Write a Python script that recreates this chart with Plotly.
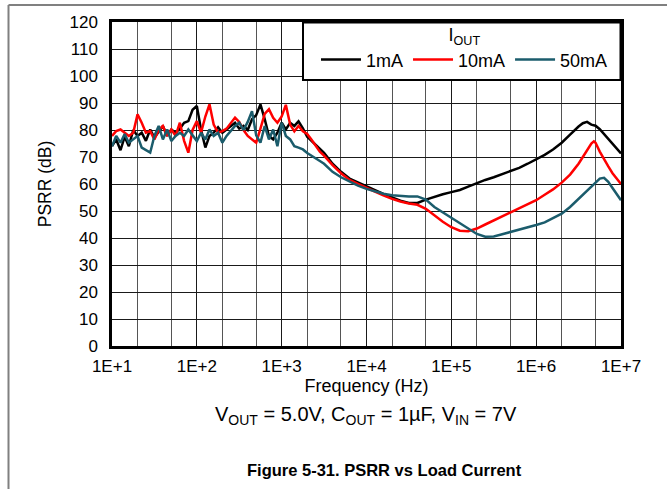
import plotly.graph_objects as go

# Frequency points (Hz)
FREQ_HZ = [
    10, 11.2, 12.6, 14.1, 15.8, 17.8, 20, 22.4, 25.1, 28.2,
    31.6, 35.5, 39.8, 44.7, 50.1, 56.2, 63.1, 70.8, 79.4, 89.1,
    100, 112, 126, 141, 158, 178, 200, 224, 251, 282,
    316, 355, 398, 447, 501, 562, 631, 708, 794, 891,
    1000, 1120, 1260, 1410, 1580, 1780, 2000, 2240, 2510, 2820,
    3160, 3980, 5010, 6310, 7940, 10000, 12600, 15800, 20000, 25100,
    31600, 39800, 50100, 63100, 79400, 1.0e5, 1.26e5, 1.58e5, 2.0e5, 2.51e5,
    3.16e5, 3.98e5, 5.01e5, 6.31e5, 7.94e5, 1.0e6, 1.26e6, 1.58e6, 2.0e6, 2.51e6,
    2.82e6, 3.16e6, 3.55e6, 3.98e6, 4.47e6, 4.79e6, 5.01e6, 5.62e6, 6.31e6, 7.08e6,
    7.94e6, 8.91e6, 1.0e7,
]

# PSRR (dB) for each load current
PSRR_1MA = [
    74, 76.5, 72.5, 77.5, 74, 80, 77.8, 79, 76, 80.2,
    77.2, 79.5, 81.5, 77.8, 80.2, 79, 80.5, 82.7, 83.3, 87.5,
    88.9, 80.2, 73.5, 77.8, 79, 81, 79, 80.2, 81.5, 82.7,
    80.5, 81.5, 80, 84, 85.5, 89.5, 84, 77.8, 76.5, 79,
    82.7, 80.2, 82.7, 81.5, 83.2, 80.6, 77.5, 76, 74.5, 73.2,
    71.5, 67.5, 64.5, 62, 60.5, 59, 57.5, 56.3, 55, 53.8,
    53.0, 53.0, 54.2, 55.3, 56.2, 57.0, 57.8, 59, 60.3, 61.5,
    62.5, 63.7, 64.8, 66, 67.5, 69, 70.8, 72.8, 75.3, 78.3,
    80, 81.3, 82.5, 83, 82, 81.7, 81.6, 80.3, 78.5, 76.8,
    75, 73.3, 71.3,
]

PSRR_10MA = [
    77.8, 79.6, 80.2, 79, 77.8, 79, 85.8, 82.7, 79, 79.6,
    76.5, 80, 81.5, 77.8, 80.2, 77.8, 82.7, 76, 71.6, 80,
    83.3, 79, 85, 89.5, 82, 79, 79.6, 80.5, 82.5, 84.6,
    83, 80, 77.8, 76.5, 75.3, 80.5, 86, 87.7, 84.5, 82.7,
    85, 89.3, 82, 79.5, 81.5, 79.5, 78.5, 76.5, 74.5, 72,
    70.5, 67, 64, 61.5, 60, 58.6, 57, 55.8, 54.5, 53.5,
    52.8, 52.3, 50.8, 48.3, 46, 44, 42.7, 42.5, 43.5, 45,
    46.5, 48, 49.5, 51, 52.5, 54, 56, 58, 60.5, 63.5,
    65.5, 67.5, 70, 72.5, 75, 75.8, 75.3, 72, 69, 66.5,
    64, 62, 60,
]

PSRR_50MA = [
    74, 77.8, 75.3, 78.5, 75.3, 76.5, 77.8, 73.5, 72.5, 71.6,
    77.8, 81.5, 76.5, 80.2, 75.9, 77.8, 79, 77.8, 80.2, 77.8,
    75.9, 79, 76.5, 80.2, 77.8, 79, 75.3, 77.8, 79.5, 81.5,
    82.7, 80, 83, 87, 78, 75.3, 81.5, 76.5, 80.2, 74,
    82.7, 77.8, 76.5, 74, 73.5, 72.8, 71.5, 70.4, 69.5, 68.5,
    67.5, 64.5, 62.5, 60.8, 59.4, 58.2, 57.2, 56.4, 55.8, 55.5,
    55.4, 55.4, 54.2, 51.5, 49.5, 47.5, 45.5, 43.5, 41.5, 40.5,
    40.6, 41.4, 42.2, 43, 43.8, 44.8, 45.8, 47.3, 49, 51.5,
    53, 54.5, 56, 57.5, 59, 60, 60.7, 62, 62.3, 60.8,
    58.5, 56, 54,
]

SERIES_NAMES = ["1mA", "10mA", "50mA"]
SERIES_COLORS = ["#000000", "#ff0000", "#1b5c6c"]

X_TICKVALS = [10, 100, 1000, 1e4, 1e5, 1e6, 1e7]
X_TICKTEXT = ["1E+1", "1E+2", "1E+3", "1E+4", "1E+5", "1E+6", "1E+7"]

FONT = "Liberation Sans, Arial, sans-serif"

fig = go.Figure()
for name, ys, col in zip(SERIES_NAMES, [PSRR_1MA, PSRR_10MA, PSRR_50MA], SERIES_COLORS):
    fig.add_trace(go.Scatter(x=FREQ_HZ, y=ys, mode="lines", name=name,
                             line=dict(color=col, width=2.5)))

W, H = 667, 489
L, R, T, B = 112, 46, 22, 143
pw, ph = W - L - R, H - T - B

def px_x(px):
    return (px - L) / pw

def px_y(py):
    return 1 - (py - T) / ph

fig.update_layout(
    width=W, height=H,
    margin=dict(l=L, r=R, t=T, b=B),
    paper_bgcolor="white", plot_bgcolor="white",
    font=dict(family=FONT, size=17, color="black"),
    showlegend=True,
    legend=dict(
        orientation="h", x=px_x(613), xanchor="right", y=px_y(18), yanchor="top",
        bgcolor="rgba(0,0,0,0)", borderwidth=0,
        font=dict(size=18),
        title=dict(text="I<sub>OUT</sub>", side="top center", font=dict(size=18)),
        itemwidth=40,
    ),
    xaxis=dict(
        type="log", range=[1, 7],
        tickvals=X_TICKVALS, ticktext=X_TICKTEXT,
        showgrid=True, gridcolor="#1a1a1a", gridwidth=1,
        minor=dict(showgrid=True, gridcolor="#555555", gridwidth=1),
        showline=True, linecolor="black", linewidth=2.5, mirror=True,
        ticks="", zeroline=False,
        tickfont=dict(size=17), ticklabelstandoff=3,
        title=dict(text="Frequency (Hz)", font=dict(size=18), standoff=1),
    ),
    yaxis=dict(
        range=[0, 120], dtick=10, tick0=0,
        showgrid=True, gridcolor="#1a1a1a", gridwidth=1,
        showline=True, linecolor="black", linewidth=2.5, mirror=True,
        ticks="", zeroline=False,
        tickfont=dict(size=17), ticklabelstandoff=8,
        title=dict(text="PSRR (dB)", font=dict(size=17.5), standoff=14),
    ),
)

# Legend box
fig.add_shape(type="rect", xref="paper", yref="paper", layer="above",
              x0=px_x(303), x1=px_x(620.5), y0=px_y(80), y1=px_y(22.5),
              fillcolor="white", line=dict(color="black", width=2))

# Outer page frame (top and left edges)
fig.add_shape(type="line", xref="paper", yref="paper",
              x0=px_x(8.5), x1=px_x(8.5), y0=px_y(5), y1=px_y(489),
              line=dict(color="#808080", width=2))
fig.add_shape(type="line", xref="paper", yref="paper",
              x0=px_x(8.5), x1=px_x(667), y0=px_y(5), y1=px_y(5),
              line=dict(color="#808080", width=2))

fig.add_annotation(xref="paper", yref="paper", x=px_x(366), y=px_y(415),
                   text="V<sub>OUT</sub> = 5.0V, C<sub>OUT</sub> = 1µF, V<sub>IN</sub> = 7V",
                   showarrow=False, font=dict(size=20), xanchor="center", yanchor="middle")
fig.add_annotation(xref="paper", yref="paper", x=px_x(384), y=px_y(470),
                   text="<b>Figure 5-31. PSRR vs Load Current</b>",
                   showarrow=False, font=dict(size=16.5), xanchor="center", yanchor="middle")

fig.write_html("out.html", config={"displayModeBar": False},
               post_script="document.body.style.margin='0';")
